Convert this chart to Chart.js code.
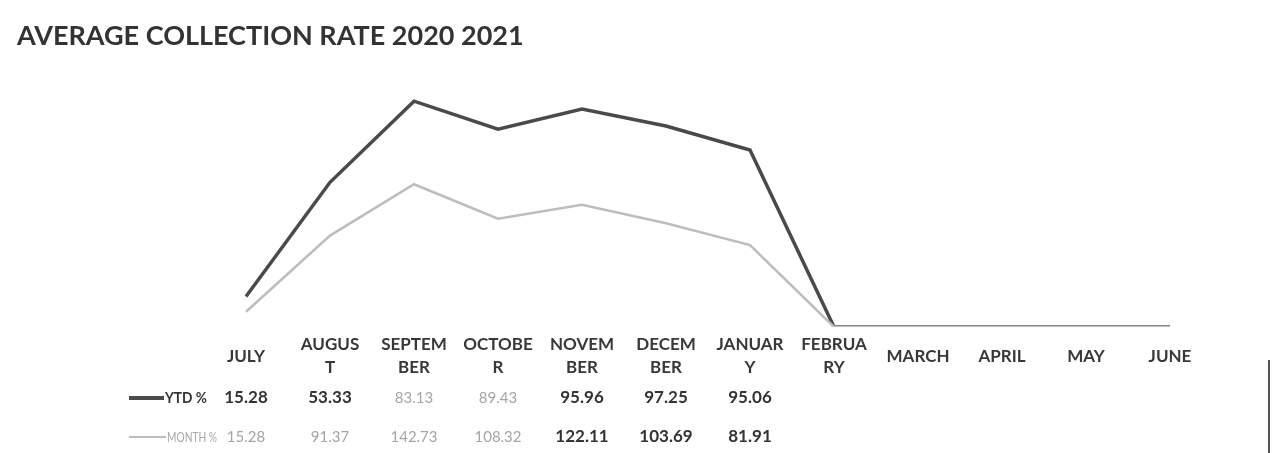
<!DOCTYPE html>
<html>
<head>
<meta charset="utf-8">
<script src="https://cdn.jsdelivr.net/npm/chart.js@4.4.1/dist/chart.umd.min.js"></script>
<style>
  html, body { margin: 0; padding: 0; background: #ffffff; }
  #wrap { position: relative; width: 1275px; height: 453px; }
  canvas { display: block; }
</style>
</head>
<body>
<div id="wrap"><canvas id="chart" width="1275" height="453"></canvas></div>
<script>
// Months of the fiscal year, split the way the table header wraps them
const months = ['JULY', 'AUGUST', 'SEPTEMBER', 'OCTOBER', 'NOVEMBER', 'DECEMBER',
                'JANUARY', 'FEBRUARY', 'MARCH', 'APRIL', 'MAY', 'JUNE'];
const monthHeaderLines = [
  ['JULY'], ['AUGUS', 'T'], ['SEPTEM', 'BER'], ['OCTOBE', 'R'], ['NOVEM', 'BER'],
  ['DECEM', 'BER'], ['JANUAR', 'Y'], ['FEBRUA', 'RY'], ['MARCH'], ['APRIL'], ['MAY'], ['JUNE']
];

// Collection rates (%), blank where the month has no figure yet
const ytdRate   = [15.28, 53.33, 83.13, 89.43, 95.96, 97.25, 95.06, null, null, null, null, null];
const monthRate = [15.28, 91.37, 142.73, 108.32, 122.11, 103.69, 81.91, null, null, null, null, null];

const seriesNames = ['YTD %', 'MONTH %'];
const titleText = 'AVERAGE COLLECTION RATE 2020 2021';

// Empty cells are plotted as zero
const asZero = arr => arr.map(v => (v === null ? 0 : v));

// Cells whose print came out faint
const faintYtd = [2, 3];
const faintMonth = [0, 1, 2, 3];

const DARK = '#4a4a4a';
const LIGHT = '#bdbdbd';
const FONT = 'Lato, "Open Sans", sans-serif';

const tablePlugin = {
  id: 'dataTable',
  afterDraw(chart) {
    const ctx = chart.ctx;
    const x = chart.scales.x;
    ctx.save();

    // Title
    ctx.fillStyle = '#333333';
    ctx.font = 'bold 27px ' + FONT;
    ctx.textAlign = 'left';
    ctx.textBaseline = 'middle';
    ctx.fillText(titleText, 17, 36);

    // Month header row
    ctx.textAlign = 'center';
    ctx.font = 'bold 17px ' + FONT;
    ctx.fillStyle = '#383838';
    monthHeaderLines.forEach((lines, i) => {
      const cx = x.getPixelForValue(i);
      if (lines.length === 1) {
        ctx.fillText(lines[0], cx, 357);
      } else {
        ctx.fillText(lines[0], cx, 345);
        ctx.fillText(lines[1], cx, 368);
      }
    });

    // Legend keys and value rows
    const rows = [
      { name: seriesNames[0], y: 398, color: DARK, width: 4, values: ytdRate, faint: faintYtd,
        textColor: '#333333', labelFont: 'bold 15px ' + FONT, labelX: 164, labelW: 42 },
      { name: seriesNames[1], y: 437, color: LIGHT, width: 2, values: monthRate, faint: faintMonth,
        textColor: '#a8a8a8', labelFont: 'normal 14px ' + FONT, labelX: 166, labelW: 50 }
    ];
    rows.forEach(r => {
      ctx.strokeStyle = r.color;
      ctx.lineWidth = r.width;
      ctx.beginPath();
      ctx.moveTo(129, r.y);
      ctx.lineTo(r.labelX, r.y);
      ctx.stroke();
      ctx.textAlign = 'left';
      ctx.fillStyle = r.textColor;
      ctx.font = r.labelFont;
      ctx.fillText(r.name, r.labelX + 1, r.y, r.labelW);

      ctx.textAlign = 'center';
      r.values.forEach((v, i) => {
        if (v === null) return;
        const faint = r.faint.includes(i);
        ctx.fillStyle = faint ? '#a5a5a5' : '#333333';
        ctx.font = (faint ? 'normal 15px ' : 'bold 17px ') + FONT;
        ctx.fillText(v.toFixed(2), x.getPixelForValue(i), r.y);
      });
    });

    // Page edge on the right
    ctx.strokeStyle = '#555555';
    ctx.lineWidth = 2;
    ctx.beginPath();
    ctx.moveTo(1269, 360);
    ctx.lineTo(1269, 453);
    ctx.stroke();

    ctx.restore();
  }
};

new Chart(document.getElementById('chart'), {
  type: 'line',
  data: {
    labels: months,
    datasets: [
      {
        // bottom of the stack
        label: seriesNames[1],
        data: asZero(monthRate),
        borderColor: LIGHT,
        borderWidth: 2.5,
        pointRadius: 0,
        fill: false,
        tension: 0
      },
      {
        // stacked on top of the monthly rate
        label: seriesNames[0],
        data: asZero(ytdRate),
        borderColor: DARK,
        borderWidth: 3.5,
        pointRadius: 0,
        fill: false,
        tension: 0
      }
    ]
  },
  options: {
    responsive: false,
    animation: false,
    layout: { padding: { left: 204, right: 63, top: 77, bottom: 126 } },
    plugins: {
      legend: { display: false },
      title: { display: false },
      tooltip: { enabled: false }
    },
    scales: {
      x: { display: false, offset: true, grid: { display: false } },
      y: { display: false, stacked: true, min: 0, max: 250, grid: { display: false } }
    }
  },
  plugins: [tablePlugin]
});
</script>
</body>
</html>
